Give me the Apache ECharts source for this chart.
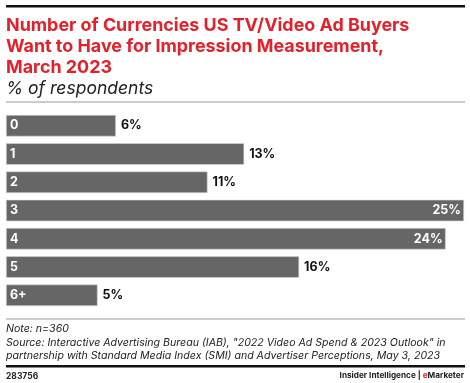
<!DOCTYPE html>
<html><head><meta charset="utf-8">
<style>html,body{margin:0;padding:0;background:#fff}#c{width:470px;height:383px}</style>
<script src="https://cdn.jsdelivr.net/npm/echarts@6/dist/echarts.min.js"></script>
</head><body><div id="c"></div>
<script>
const categories = ['0', '1', '2', '3', '4', '5', '6+'];
const values = [6, 13, 11, 25, 24, 16, 5];
const insideThreshold = 20;

const chart = echarts.init(document.getElementById('c'), null, {renderer: 'canvas'});
const F = 'Inter, "Open Sans", sans-serif';
chart.setOption({
  animation: false,
  grid: {left: 6, right: 6, top: 111.6, bottom: 73.6, containLabel: false},
  xAxis: {type: 'value', min: 0, max: 25, show: false},
  yAxis: {type: 'category', data: categories, inverse: true, show: false},
  series: [{
    type: 'bar',
    data: values.map(v => ({
      value: v,
      label: v >= insideThreshold
        ? {position: 'insideRight', color: '#fff', offset: [2, 0]}
        : {position: 'right', color: '#111', distance: 5}
    })),
    barWidth: 21.5,
    itemStyle: {color: '#666666', borderColor: '#d9d9d9', borderWidth: 0.6},
    label: {show: true, formatter: '{c}%', fontFamily: F, fontWeight: 'bold', fontSize: 12.5},
    silent: true
  }, {
    type: 'bar',
    data: values.map(() => 0),
    barGap: '-100%',
    barWidth: 21.5,
    itemStyle: {color: 'transparent'},
    label: {show: true, position: 'insideLeft', distance: 4, color: '#fff', fontFamily: F, fontWeight: 'bold', fontSize: 12.5,
      formatter: p => categories[p.dataIndex]},
    silent: true
  }],
  graphic: [
    {type: 'rect', shape: {x: 6, y: 5, width: 459, height: 2.5}, style: {fill: '#111'}},
    {type: 'text', left: 6, top: 15, style: {text: 'Number of Currencies US TV/Video Ad Buyers\nWant to Have for Impression Measurement,\nMarch 2023', fill: '#e4202a', font: 'bold 17.9px ' + F, lineHeight: 21}},
    {type: 'text', left: 6, top: 79.5, style: {text: '% of respondents', fill: '#222', font: 'italic 17.5px ' + F}},
    {type: 'rect', shape: {x: 6, y: 101.5, width: 459, height: 1}, style: {fill: '#999'}},
    {type: 'rect', shape: {x: 6, y: 318.5, width: 459, height: 1}, style: {fill: '#999'}},
    {type: 'text', left: 6, top: 322, style: {text: 'Note: n=360\nSource: Interactive Advertising Bureau (IAB), "2022 Video Ad Spend & 2023 Outlook" in\npartnership with Standard Media Index (SMI) and Advertiser Perceptions, May 3, 2023', fill: '#222', font: 'italic 10.6px ' + F, lineHeight: 13.7}},
    {type: 'rect', shape: {x: 6, y: 365, width: 459, height: 2.5}, style: {fill: '#111'}},
    {type: 'text', left: 6, top: 372, style: {text: '283756', fill: '#222', font: 'bold 8.5px ' + F}},
    {type: 'text', right: 6, top: 372, style: {rich: {a: {fill: '#222', font: 'bold 8.2px ' + F}, b: {fill: '#e4202a', font: 'bold 8.2px ' + F}}, text: '{a|Insider Intelligence | }{b|e}{a|Marketer}'}}
  ]
});
</script></body></html>
